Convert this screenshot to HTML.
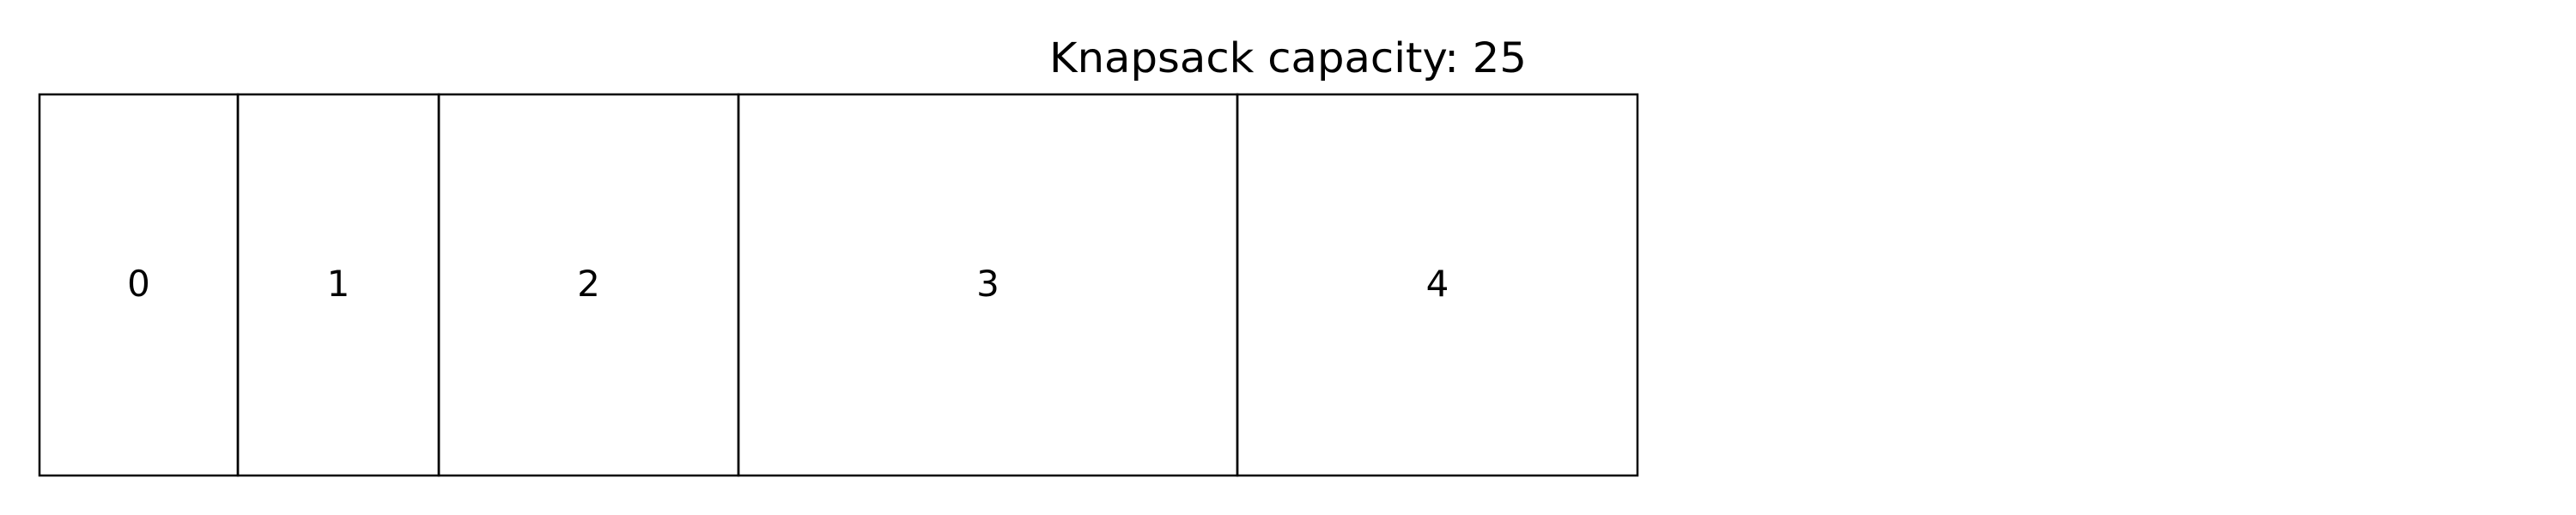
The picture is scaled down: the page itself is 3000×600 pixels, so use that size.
<!DOCTYPE html>
<html><head><meta charset="utf-8"><style>
html,body{margin:0;padding:0;background:#fff;width:3000px;height:600px;overflow:hidden}
</style></head><body>
<svg width="3000" height="600" xmlns="http://www.w3.org/2000/svg" font-family="DejaVu Sans, Liberation Sans, sans-serif">
<rect x="0" y="0" width="3000" height="600" fill="#fff"/>
<g fill="none" stroke="#000" stroke-width="2.5">
<rect x="46" y="110" width="231" height="444"/>
<rect x="277" y="110" width="234" height="444"/>
<rect x="511" y="110" width="349" height="444"/>
<rect x="860" y="110" width="581" height="444"/>
<rect x="1441" y="110" width="466" height="444"/>
</g>
<g font-size="42" text-anchor="middle" fill="#000">
<text x="161.5" y="345">0</text>
<text x="394" y="345">1</text>
<text x="685.5" y="345">2</text>
<text x="1150.5" y="345">3</text>
<text x="1674" y="345">4</text>
</g>
<text x="1500" y="84" font-size="48" text-anchor="middle" textLength="556" lengthAdjust="spacingAndGlyphs" fill="#000">Knapsack capacity: 25</text>
</svg>
</body></html>
